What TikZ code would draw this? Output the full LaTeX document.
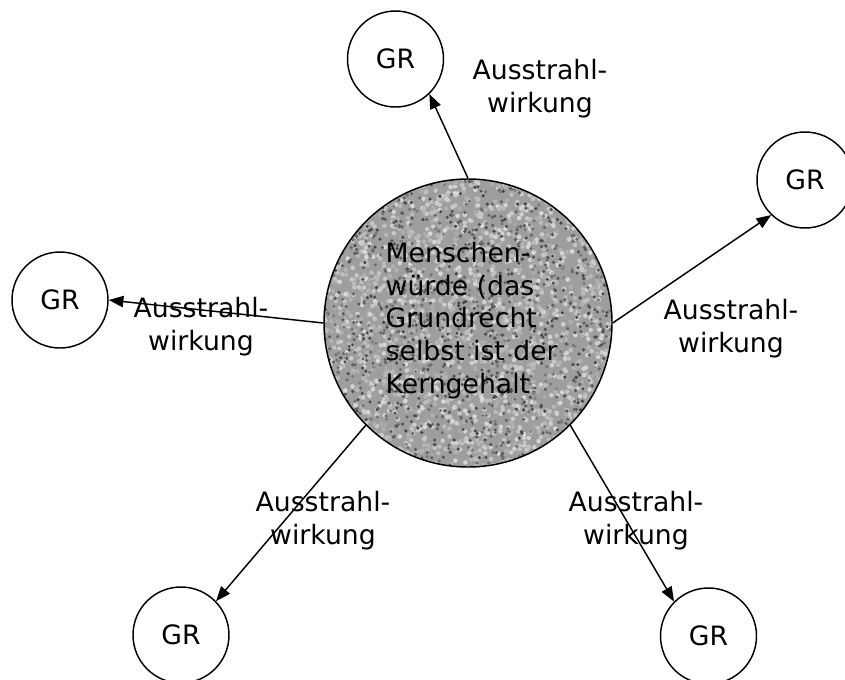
\documentclass[tikz,border=0pt]{standalone}
\usepackage{fontspec}
\setmainfont{DejaVu Sans}
\usetikzlibrary{arrows.meta}

\begin{document}
\begin{tikzpicture}[x=0.75pt,y=-0.75pt,
    every node/.style={font=\fontsize{20}{24.4}\selectfont},
    gr/.style={circle,draw,line width=1.1pt,minimum size=72pt,inner sep=0pt},
    strahl/.style={->,>={Triangle[length=11pt,width=8.5pt]},line width=1.1pt},
    lbl/.style={align=center,anchor=base}]

    \useasboundingbox (0,0) rectangle (845,679);

    % granite texture of the core
    \begin{scope}
      \clip (468,323) circle (108pt);
      \fill[black!38] (320,175) rectangle (616,471);
      \pgfmathsetseed{7}
      \foreach \i in {1,...,2200} {
        \pgfmathsetmacro{\px}{320+296*rnd}
        \pgfmathsetmacro{\py}{175+296*rnd}
        \pgfmathsetmacro{\g}{int(15+20*rnd)}
        \fill[black!\g] (\px,\py) circle (1.7pt);
      }
      \foreach \i in {1,...,1300} {
        \pgfmathsetmacro{\px}{320+296*rnd}
        \pgfmathsetmacro{\py}{175+296*rnd}
        \pgfmathsetmacro{\g}{int(50+25*rnd)}
        \fill[black!\g] (\px,\py) circle (1.3pt);
      }
    \end{scope}

    \node[circle,draw,line width=1.1pt,minimum size=216pt,inner sep=0pt] (M) at (468,323) {};
    \node[align=left,anchor=base west] (kern) at (381,393)
      {Menschen-\\würde (das\\Grundrecht\\selbst ist der\\Kerngehalt};

    \node[gr] (g1) at (395.5,59)  {GR};
    \node[gr] (g2) at (805,180)   {GR};
    \node[gr] (g3) at (708.5,636) {GR};
    \node[gr] (g4) at (181,635)   {GR};
    \node[gr] (g5) at (60,300)    {GR};

    \draw (M.90)   edge[strahl] (g1.-46);
    \draw (M.0)    edge[strahl] (g2.-134);
    \draw (M.-45)  edge[strahl] (g3.135);
    \draw (M.-135) edge[strahl] (g4.44);
    \draw (M.180)  edge[strahl] (g5.0);

    \node[lbl] (a1) at (540,112) {Ausstrahl-\\wirkung};
    \node[lbl] (a2) at (731,352) {Ausstrahl-\\wirkung};
    \node[lbl] (a3) at (636,544) {Ausstrahl-\\wirkung};
    \node[lbl] (a4) at (323,544) {Ausstrahl-\\wirkung};
    \node[lbl] (a5) at (201,350) {Ausstrahl-\\wirkung};
\end{tikzpicture}
\end{document}
